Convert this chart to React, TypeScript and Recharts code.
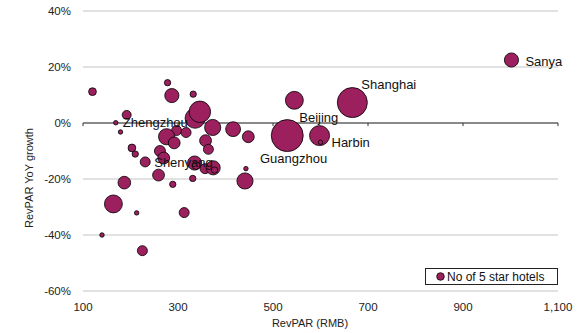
import {
  CartesianGrid,
  Legend,
  ReferenceLine,
  Scatter,
  ScatterChart,
  XAxis,
  YAxis,
  ZAxis,
} from "recharts";

// RevPAR (RMB), RevPAR YoY growth (%) and number of 5 star hotels per city
const revpar = [
  120, 278, 287, 332, 336, 346, 192, 169, 179, 297, 317, 373, 416, 448, 530,
  276, 292, 358, 364, 203, 210, 262, 270, 231, 335, 338, 357, 374, 377, 443,
  259, 331, 289, 441, 187, 164, 213, 313, 140, 225, 545, 667, 598, 600, 1002,
];
const yoyGrowth = [
  11.2, 14.4, 9.8, 10.3, 1.7, 4.0, 2.9, 0.1, -3.2, -2.7, -3.4, -1.6, -2.2, -4.9, -4.5,
  -4.9, -7.1, -6.3, -9.4, -8.9, -11.1, -10.0, -12.5, -13.9, -14.3, -15.2, -16.3, -16.0, -16.8, -16.3,
  -18.6, -19.8, -21.9, -20.7, -21.3, -28.9, -32.1, -32.0, -40.0, -45.6, 8.1, 7.3, -4.5, -6.9, 22.5,
];
const fiveStarHotels = [
  3, 2, 10, 2, 20, 23, 4, 1, 1, 5, 5, 13, 11, 7, 51,
  13, 7, 7, 5, 3, 2, 6, 7, 5, 10, 3, 5, 10, 2, 1,
  7, 2, 2, 13, 8, 16, 1, 5, 1, 5, 16, 45, 20, 1, 10,
];
const cityNames = [
  "", "", "", "", "", "", "", "Zhengzhou", "", "", "", "", "", "", "Beijing",
  "", "", "", "", "", "", "", "", "Shenyang", "", "", "", "", "", "Guangzhou",
  "", "", "", "", "", "", "", "", "", "", "", "Shanghai", "", "Harbin", "Sanya",
];

const xTicks = [100, 300, 500, 700, 900, 1100];
const yTicks = [-60, -40, -20, 0, 20, 40];

const BUBBLE = "#9c1f5e";
const FONT = "'Liberation Sans', Arial, sans-serif";

const points = revpar.map((x, i) => ({
  x,
  y: yoyGrowth[i],
  z: fiveStarHotels[i],
  city: cityNames[i],
}));
const labelled = points.filter((p) => p.city);

// where each city name sits relative to its bubble centre
const LABEL_OFFSET: Record<string, [number, number]> = {
  Zhengzhou: [7, 0],
  Shenyang: [9, 1],
  Guangzhou: [14, -10],
  Beijing: [12, -18],
  Shanghai: [9, -18],
  Harbin: [11, 0],
  Sanya: [14, 1],
};

function CityLabel(props: any) {
  const { cx, cy, payload } = props;
  const [dx, dy] = LABEL_OFFSET[payload.city] ?? [8, 0];
  return (
    <text
      x={cx + dx}
      y={cy + dy}
      dominantBaseline="central"
      fontSize={13}
      fontFamily={FONT}
      fill="#111"
    >
      {payload.city}
    </text>
  );
}

function HotelsLegend() {
  return (
    <div
      style={{
        display: "flex",
        alignItems: "center",
        border: "1px solid #222",
        background: "#fff",
        height: 17,
        width: 133,
        boxSizing: "border-box",
        paddingLeft: 10,
        fontFamily: FONT,
        fontSize: 12,
        color: "#111",
      }}
    >
      <svg width={9} height={9} style={{ marginRight: 2 }}>
        <circle cx={4.5} cy={4.5} r={3.8} fill={BUBBLE} stroke="#000" strokeWidth={0.8} />
      </svg>
      No of 5 star hotels
    </div>
  );
}

const fmtPct = (v: number) => `${v}%`;
const fmtNum = (v: number) => v.toLocaleString("en-US");

export default function App() {
  return (
    <div style={{ position: "absolute", left: 0, top: 0, background: "#fff" }}>
      <ScatterChart
        width={587}
        height={333}
        margin={{ top: 11, right: 29, bottom: 0, left: 0 }}
      >
        <CartesianGrid horizontal vertical={false} stroke="#c4c4c4" />
        <XAxis
          type="number"
          dataKey="x"
          domain={[100, 1100]}
          ticks={xTicks}
          tickFormatter={fmtNum}
          axisLine={false}
          tickLine={false}
          tickMargin={6}
          height={42}
          tick={{ fontSize: 11.5, fontFamily: FONT, fill: "#222" }}
          label={(p: any) => (
            <text
              x={310}
              y={323}
              textAnchor="middle"
              dominantBaseline="central"
              fontSize={11}
              fontFamily={FONT}
              fill="#222"
            >
              RevPAR (RMB)
            </text>
          )}
        />
        <YAxis
          type="number"
          dataKey="y"
          domain={[-60, 40]}
          ticks={yTicks}
          tickFormatter={fmtPct}
          axisLine={false}
          tickLine={false}
          tickMargin={6}
          width={83}
          tick={{ fontSize: 11.5, fontFamily: FONT, fill: "#222" }}
          label={(p: any) => (
            <text
              x={29}
              y={178}
              transform="rotate(-90 29 178)"
              textAnchor="middle"
              dominantBaseline="central"
              fontSize={11}
              fontFamily={FONT}
              fill="#222"
            >
              RevPAR YoY growth
            </text>
          )}
        />
        <ZAxis type="number" dataKey="z" domain={[0, 51]} range={[0, 804]} />
        <ReferenceLine y={0} stroke="#333" strokeWidth={1} />
        {xTicks.map((t) => (
          <ReferenceLine
            key={t}
            segment={[
              { x: t, y: 0 },
              { x: t, y: -1.1 },
            ]}
            stroke="#333"
            strokeWidth={1}
          />
        ))}
        <Scatter
          name="No of 5 star hotels"
          data={points}
          fill={BUBBLE}
          stroke="#000"
          strokeWidth={0.8}
          isAnimationActive={false}
        />
        <Scatter
          data={labelled}
          shape={CityLabel}
          legendType="none"
          isAnimationActive={false}
        />
        <Legend
          layout="horizontal"
          verticalAlign="middle"
          align="center"
          wrapperStyle={{ left: 425, top: 268, width: 133 }}
          content={() => <HotelsLegend />}
        />
      </ScatterChart>
    </div>
  );
}
